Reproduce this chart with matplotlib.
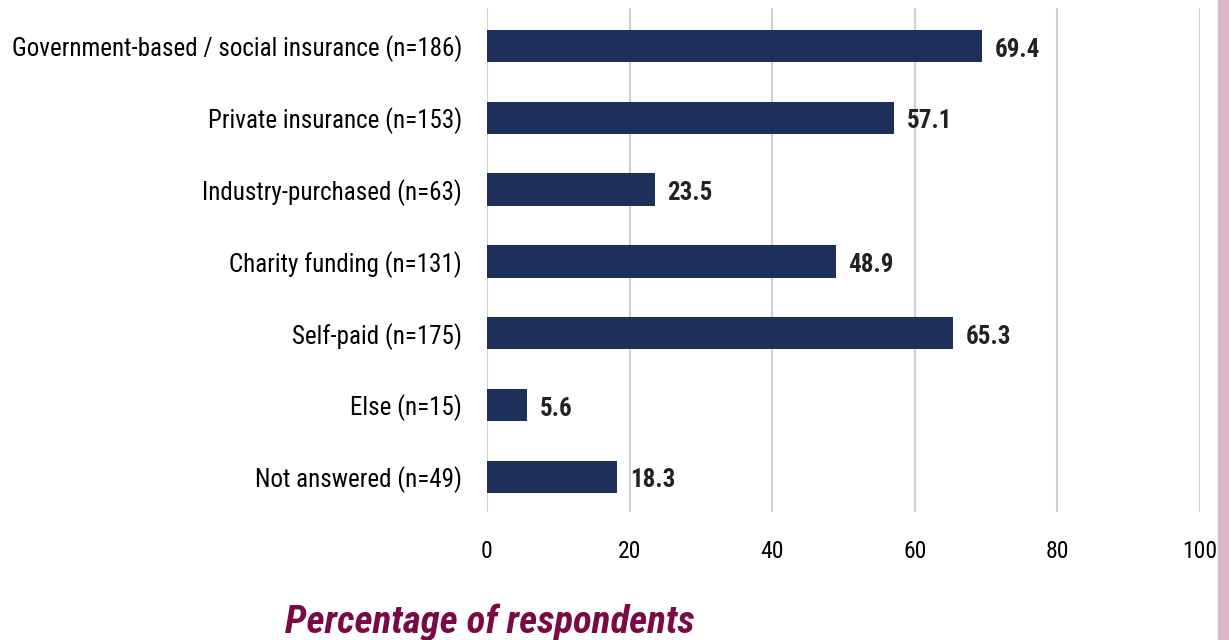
import matplotlib.pyplot as plt
from matplotlib import font_manager

categories = [
    'Government-based / social insurance (n=186)',
    'Private insurance (n=153)',
    'Industry-purchased (n=63)',
    'Charity funding (n=131)',
    'Self-paid (n=175)',
    'Else (n=15)',
    'Not answered (n=49)',
]
values = [69.4, 57.1, 23.5, 48.9, 65.3, 5.6, 18.3]
xticks = [0, 20, 40, 60, 80, 100]

names = {f.name for f in font_manager.fontManager.ttflist}
narrow = [n for n in ['Roboto Condensed', 'Archivo Narrow', 'Liberation Sans'] if n in names]
plt.rcParams['font.family'] = narrow + ['DejaVu Sans']

fig = plt.figure(figsize=(12.29, 6.4), dpi=100)
ax = fig.add_axes([487 / 1229, 0.2, (1200 - 487) / 1229, 0.7875])

pos = list(range(len(categories)))
ax.barh(pos, values, height=0.45, color='#1f2f5c', zorder=3)
for p, v in zip(pos, values):
    ax.text(v + 1.8, p + 0.05, f'{v:.1f}', va='center', ha='left',
            fontsize=18, fontweight='bold', color='#222222')

ax.set_xlim(0, 100)
ax.set_ylim(6.49, -0.53)
ax.set_yticks(pos)
ax.set_yticklabels(categories, fontsize=18)
ax.set_xticks(xticks)
ax.set_xticklabels([str(t) for t in xticks], fontsize=17)
ax.tick_params(axis='both', length=0)
ax.tick_params(axis='y', pad=18)
ax.tick_params(axis='x', pad=20)
ax.grid(axis='x', color='#d0d0d0', linewidth=1.5, zorder=0)
for s in ax.spines.values():
    s.set_visible(False)

fig.text(490 / 1229, 1 - 622 / 640, 'Percentage of respondents', ha='center', va='center',
         fontsize=28, fontweight='bold', fontstyle='italic', color='#7a0a45')

# pink strip at right edge
fig.patches.append(plt.Rectangle((1218 / 1229, 0), 11 / 1229, 1, transform=fig.transFigure,
                                 color='#dbb4c6', zorder=0))

fig.savefig('out.png', dpi=100)
